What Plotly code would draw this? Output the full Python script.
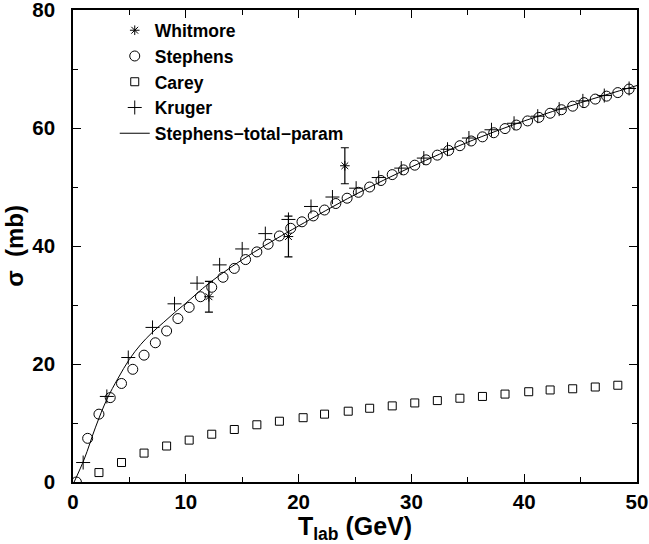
import plotly.graph_objects as go

# ---- data ----
whitmore_T = [12.05, 19.1, 24.1]
whitmore_sigma = [31.4, 41.6, 53.6]
whitmore_err = [2.6, 3.45, 3.05]

stephens_T = [0.3, 1.3, 2.3, 3.3, 4.3, 5.3, 6.3, 7.3, 8.3, 9.3,
              10.3, 11.3, 12.3, 13.3, 14.3, 15.3, 16.3, 17.3, 18.3, 19.3,
              20.3, 21.3, 22.3, 23.3, 24.3, 25.3, 26.3, 27.3, 28.3, 29.3,
              30.3, 31.3, 32.3, 33.3, 34.3, 35.3, 36.3, 37.3, 38.3, 39.3,
              40.3, 41.3, 42.3, 43.3, 44.3, 45.3, 46.3, 47.3, 48.3, 49.3]
stephens_sigma = [0.0, 7.4, 11.5, 14.3, 16.7, 19.1, 21.5, 23.6, 25.6, 27.7,
                  29.6, 31.4, 33.0, 34.7, 36.2, 37.7, 39.0, 40.3, 41.7, 43.0,
                  44.1, 45.1, 46.1, 47.2, 48.1, 49.1, 50.0, 51.1, 52.1, 52.9,
                  53.7, 54.6, 55.4, 56.2, 57.0, 57.8, 58.5, 59.2, 59.9, 60.5,
                  61.2, 61.8, 62.5, 63.1, 63.7, 64.3, 64.9, 65.4, 66.0, 66.6]

carey_T = [2.3, 4.3, 6.3, 8.3, 10.3, 12.3, 14.3, 16.3, 18.3, 20.4, 22.3, 24.4,
           26.3, 28.3, 30.3, 32.3, 34.3, 36.3, 38.3, 40.4, 42.3, 44.3, 46.3, 48.3]
carey_sigma = [1.6, 3.3, 4.9, 6.1, 7.1, 8.1, 8.9, 9.7, 10.3, 10.9, 11.5, 12.0,
               12.5, 12.9, 13.4, 13.8, 14.2, 14.5, 14.9, 15.3, 15.6, 15.8, 16.1, 16.4]

kruger_T = [0.9, 3.0, 4.9, 7.05, 9.0, 11.0, 13.0, 15.0, 17.05, 19.1, 21.1, 23.0, 25.1,
            27.1, 29.1, 31.1, 33.2, 35.1, 37.1, 39.1, 41.2, 43.1, 45.2, 47.1, 49.3]
kruger_sigma = [3.3, 14.5, 21.1, 26.2, 30.2, 33.7, 36.8, 39.5, 42.1, 44.5, 46.7, 48.3, 49.8,
                51.6, 53.2, 54.9, 56.4, 58.3, 59.7, 60.8, 62.0, 63.2, 64.6, 65.5, 66.7]

param_T = [0.1, 1, 2, 3, 4, 5, 6, 7, 8, 9, 10, 12, 14, 16, 18, 20, 25, 30, 35, 40, 45, 50]
param_sigma = [0.0, 3.9, 9.3, 14.0, 17.6, 20.8, 23.3, 25.3, 27.0, 28.7, 30.3, 33.6,
               36.4, 38.9, 41.2, 43.4, 48.7, 53.4, 57.6, 61.2, 64.3, 67.2]

x_ticks = [0, 10, 20, 30, 40, 50]
y_ticks = [0, 20, 40, 60, 80]

FONT = "Liberation Sans, Arial, Helvetica, sans-serif"

fig = go.Figure()

fig.add_trace(go.Scatter(
    x=whitmore_T, y=whitmore_sigma, mode="markers", name="Whitmore",
    marker=dict(symbol="asterisk-open", size=8, color="black", line=dict(color="black", width=1)),
    error_y=dict(type="data", array=whitmore_err, visible=True, color="black", thickness=1.2, width=4),
))
fig.add_trace(go.Scatter(
    x=stephens_T, y=stephens_sigma, mode="markers", name="Stephens",
    marker=dict(symbol="circle-open", size=10, color="black", line=dict(color="black", width=1)),
))
fig.add_trace(go.Scatter(
    x=carey_T, y=carey_sigma, mode="markers", name="Carey",
    marker=dict(symbol="square-open", size=8, color="black", line=dict(color="black", width=1)),
))
fig.add_trace(go.Scatter(
    x=kruger_T, y=kruger_sigma, mode="markers", name="Kruger",
    marker=dict(symbol="cross-thin-open", size=10, color="black", line=dict(color="black", width=1)),
))
fig.add_trace(go.Scatter(
    x=param_T, y=param_sigma, mode="lines", name="Stephens\u2212total\u2212param",
    line=dict(color="black", width=1, shape="spline"),
))

axis_common = dict(
    showgrid=False, zeroline=False, showline=True, linecolor="black", linewidth=1.5,
    mirror="ticks", ticks="inside", ticklen=8, tickwidth=1, tickcolor="black",
    tickfont=dict(family=FONT, size=20.5, color="black", weight="bold"),
    ticklabeloverflow="allow", automargin=False,
)

fig.update_xaxes(
    range=[0, 50], tickvals=x_ticks, ticktext=[str(v) for v in x_ticks],
    minor=dict(dtick=5, ticks="inside", ticklen=5, tickcolor="black"),
    ticklabelstandoff=1,
    title=dict(text="T<sub>lab</sub> (GeV)", font=dict(family=FONT, size=25, color="black", weight="bold"), standoff=0),
    **axis_common,
)
fig.update_yaxes(
    range=[0, 80], tickvals=y_ticks, ticktext=[str(v) for v in y_ticks],
    minor=dict(dtick=10, ticks="inside", ticklen=5, tickcolor="black"),
    ticklabelstandoff=12,
    title=dict(text="\u03c3  (mb)", font=dict(family=FONT, size=24, color="black", weight="bold"), standoff=2),
    **axis_common,
)

fig.update_layout(
    width=649, height=544,
    margin=dict(l=73, r=12, t=10, b=62),
    paper_bgcolor="white", plot_bgcolor="white",
    font=dict(family=FONT, color="black"),
    showlegend=True,
    legend=dict(x=0.074, y=0.995, xanchor="left", yanchor="top",
                bgcolor="rgba(0,0,0,0)", borderwidth=0,
                font=dict(family=FONT, size=17.5, color="black", weight="bold"),
                tracegroupgap=0, itemwidth=30),
)

fig.write_html("out.html")
